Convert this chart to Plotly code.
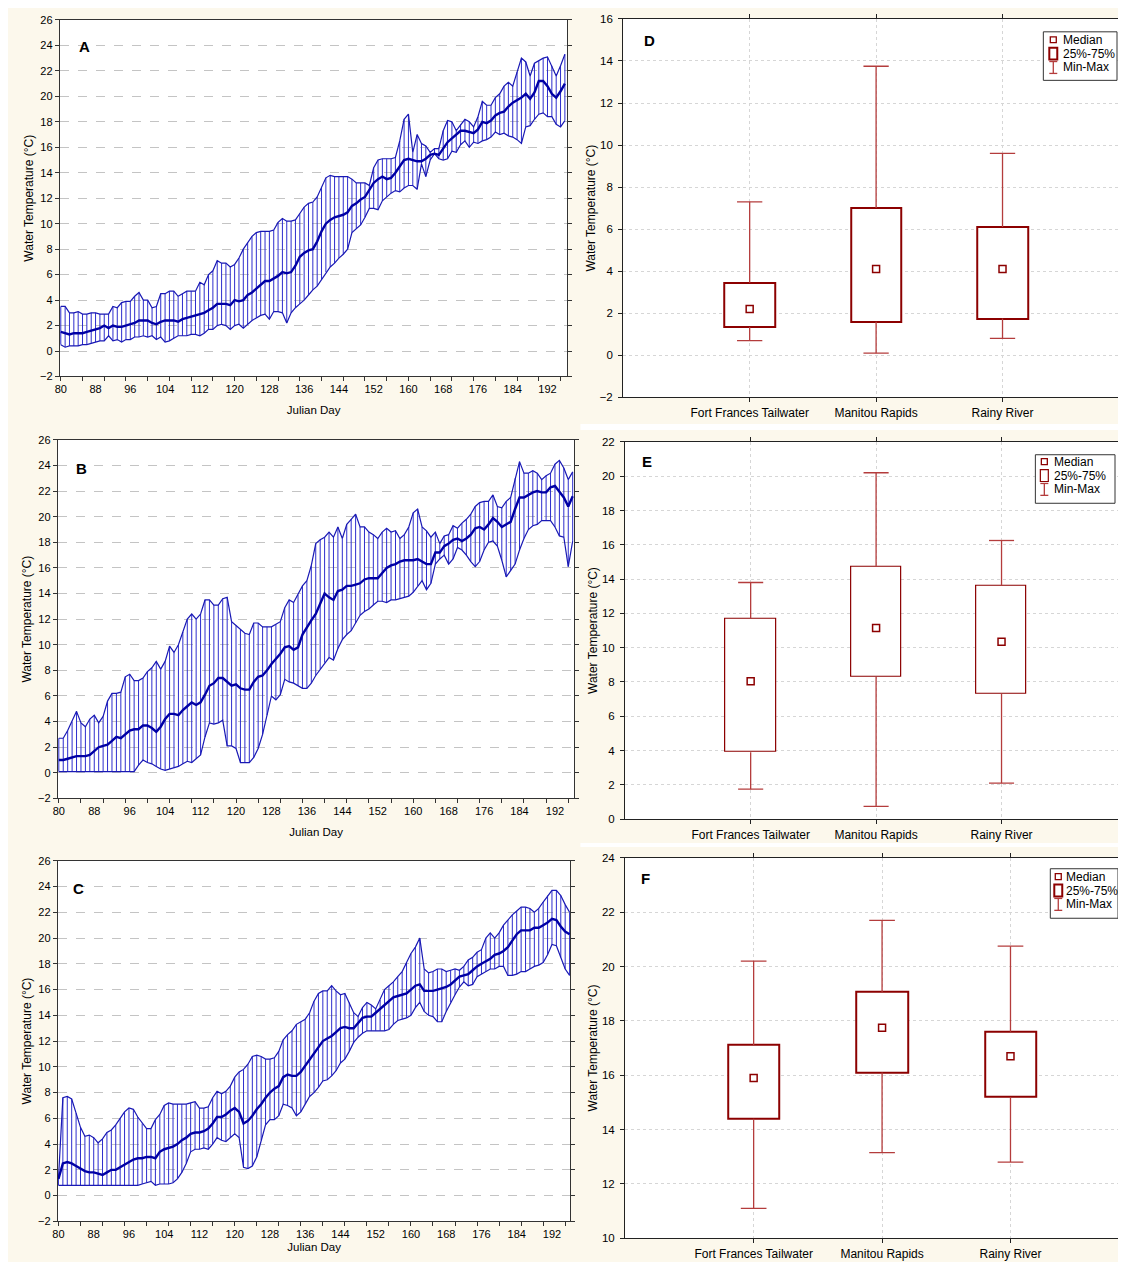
import plotly.graph_objects as go

# The page keeps the browser's default 8px body margin on every side, so the
# figure is sized to fit inside the 1126x1270 window with that margin, and all
# positions below are given in window pixels and shifted by that offset.
WIN_W, WIN_H = 1126, 1270
OFF = 8
W, H = WIN_W - 2 * OFF, WIN_H - 2 * OFF

# ---------------- data ----------------
days = list(range(80, 197))

A_mean = [1.5, 1.4, 1.3, 1.4, 1.4, 1.4, 1.5, 1.6, 1.7, 1.8,
          2.0, 1.8, 2.0, 1.9, 1.9, 2.0, 2.1, 2.2, 2.4, 2.4,
          2.4, 2.2, 2.1, 2.3, 2.4, 2.4, 2.4, 2.3, 2.5, 2.6,
          2.7, 2.8, 2.9, 3.0, 3.2, 3.4, 3.7, 3.7, 3.7, 3.6,
          4.0, 3.9, 4.0, 4.4, 4.6, 4.9, 5.2, 5.5, 5.5, 5.7,
          5.9, 6.2, 6.1, 6.2, 6.7, 7.4, 7.7, 7.9, 8.0, 8.6,
          9.4, 10.0, 10.3, 10.5, 10.6, 10.7, 10.9, 11.4, 11.6, 11.9,
          12.1, 12.6, 13.2, 13.5, 13.7, 13.5, 13.6, 14.0, 14.5, 15.0,
          15.1, 15.0, 14.9, 14.9, 15.1, 15.4, 15.5, 15.4, 15.9, 16.4,
          16.7, 17.0, 17.3, 17.3, 17.2, 17.1, 17.4, 18.0, 17.9, 18.1,
          18.5, 18.7, 18.8, 19.2, 19.5, 19.7, 19.9, 20.2, 19.8, 20.3,
          21.2, 21.2, 20.8, 20.2, 19.9, 20.4, 21.0]
A_max = [3.5, 3.5, 3.0, 3.0, 3.1, 2.9, 2.9, 3.0, 3.0, 2.9,
         2.9, 2.9, 3.5, 3.4, 3.8, 3.9, 3.9, 4.3, 4.6, 4.0,
         4.0, 3.4, 3.5, 4.5, 4.5, 4.7, 4.7, 4.3, 4.5, 4.7,
         4.7, 4.7, 5.4, 5.2, 6.0, 6.3, 7.1, 6.9, 6.9, 6.6,
         6.8, 7.3, 8.0, 8.5, 9.0, 9.3, 9.4, 9.4, 9.4, 9.5,
         10.1, 10.4, 10.2, 10.2, 10.3, 10.8, 11.3, 11.6, 11.7, 12.1,
         12.9, 13.6, 13.8, 13.7, 13.7, 13.7, 13.7, 13.5, 13.2, 13.2,
         13.2, 13.0, 14.4, 15.0, 15.1, 15.1, 15.1, 15.2, 16.5, 18.2,
         18.6, 15.6, 17.0, 16.3, 16.1, 15.6, 15.9, 15.9, 17.3, 18.1,
         18.0, 17.3, 17.8, 18.2, 18.0, 17.6, 18.4, 19.6, 19.3, 19.3,
         19.9, 20.2, 20.8, 21.1, 20.8, 21.9, 23.0, 22.7, 21.6, 22.6,
         22.8, 23.0, 23.1, 22.4, 21.6, 22.4, 23.3]
A_min = [0.5, 0.3, 0.4, 0.4, 0.4, 0.5, 0.5, 0.6, 0.7, 0.8,
         0.8, 1.2, 0.8, 0.9, 0.7, 0.9, 0.9, 1.1, 1.1, 1.2,
         1.1, 1.2, 0.9, 1.1, 0.7, 0.8, 1.0, 1.2, 1.2, 1.2,
         1.3, 1.3, 1.2, 1.4, 1.7, 1.7, 2.0, 2.1, 2.0, 1.7,
         2.0, 2.1, 1.8, 2.1, 2.4, 2.6, 2.8, 2.9, 2.5, 3.1,
         3.1, 3.0, 2.2, 3.0, 3.4, 3.7, 4.0, 4.4, 4.8, 5.1,
         5.6, 6.2, 6.6, 6.9, 7.3, 7.6, 8.0, 9.3, 9.6, 9.9,
         10.5, 11.2, 11.2, 11.1, 11.8, 12.1, 12.4, 12.6, 12.5, 12.8,
         13.0, 13.0, 12.7, 14.7, 13.7, 15.0, 15.5, 15.1, 15.0, 15.1,
         15.7, 15.6, 16.2, 16.5, 16.0, 16.4, 16.3, 16.5, 16.6, 16.8,
         17.2, 17.0, 17.1, 16.9, 16.8, 16.6, 16.3, 17.6, 17.7, 18.2,
         18.6, 18.7, 18.4, 18.4, 17.8, 17.6, 18.1]

B_mean = [1.0, 1.0, 1.1, 1.2, 1.3, 1.3, 1.3, 1.4, 1.7, 2.0,
          2.1, 2.2, 2.5, 2.8, 2.7, 3.0, 3.3, 3.4, 3.4, 3.7,
          3.7, 3.5, 3.2, 3.6, 4.2, 4.6, 4.6, 4.5, 4.9, 5.2,
          5.5, 5.3, 5.5, 6.1, 6.8, 7.0, 7.4, 7.4, 7.1, 6.8,
          6.9, 6.6, 6.5, 6.5, 7.1, 7.5, 7.6, 8.0, 8.5, 8.9,
          9.3, 9.8, 9.9, 9.6, 9.8, 10.8, 11.4, 11.9, 12.4, 13.2,
          14.0, 13.7, 13.5, 14.2, 14.3, 14.6, 14.6, 14.7, 14.8, 15.1,
          15.2, 15.2, 15.2, 15.6, 16.0, 16.2, 16.3, 16.5, 16.6, 16.6,
          16.6, 16.7, 16.5, 16.3, 16.3, 17.2, 17.2, 17.7, 17.9, 18.2,
          18.3, 18.1, 18.3, 18.6, 19.1, 19.2, 19.0, 19.4, 19.9, 19.6,
          19.2, 19.4, 19.6, 20.6, 21.5, 21.5, 21.7, 21.9, 22.0, 21.9,
          21.9, 22.3, 22.4, 21.9, 21.5, 20.8, 21.6]
B_max = [2.7, 2.7, 3.3, 4.0, 4.8, 3.9, 3.6, 4.2, 4.5, 3.9,
         4.4, 5.6, 6.2, 6.2, 6.3, 7.5, 7.7, 7.2, 7.2, 7.4,
         7.9, 8.2, 8.7, 8.1, 8.7, 9.9, 9.4, 10.0, 11.0, 12.0,
         12.4, 12.0, 12.4, 13.5, 13.5, 13.1, 13.1, 13.6, 13.7, 11.8,
         11.5, 11.2, 10.9, 10.8, 11.7, 11.7, 11.4, 11.4, 11.4, 11.6,
         11.8, 12.9, 13.5, 13.3, 13.9, 14.6, 15.0, 16.2, 17.9, 18.2,
         18.4, 18.8, 18.4, 19.2, 18.3, 19.4, 19.8, 20.2, 19.2, 19.2,
         18.8, 18.6, 18.3, 18.8, 19.1, 18.8, 18.9, 18.3, 18.6, 19.2,
         20.3, 20.6, 19.2, 18.9, 18.4, 18.8, 17.9, 18.5, 18.6, 19.3,
         19.1, 19.5, 19.8, 20.2, 20.8, 21.1, 21.2, 21.2, 21.7, 20.8,
         20.7, 21.2, 21.5, 23.0, 24.3, 23.4, 23.4, 23.6, 23.4, 22.9,
         23.2, 23.4, 24.1, 24.4, 23.8, 22.9, 23.5]
B_min = [0.1, 0.1, 0.1, 0.1, 0.1, 0.1, 0.1, 0.1, 0.1, 0.1,
         0.1, 0.1, 0.1, 0.1, 0.1, 0.1, 0.1, 0.1, 0.6, 1.0,
         0.8, 0.7, 0.5, 0.3, 0.2, 0.3, 0.4, 0.5, 0.7, 0.9,
         0.8, 1.1, 1.4, 2.8, 3.9, 3.8, 3.9, 4.1, 2.1, 2.1,
         1.9, 0.8, 0.8, 0.8, 1.2, 1.9, 3.0, 4.5, 6.0, 5.7,
         6.1, 7.3, 7.1, 7.0, 6.8, 6.6, 6.6, 7.0, 7.6, 8.1,
         8.6, 9.0, 8.8, 9.7, 10.4, 10.8, 11.1, 11.7, 12.3, 12.6,
         12.8, 13.1, 13.4, 13.4, 13.3, 13.5, 13.5, 13.6, 13.7, 13.8,
         14.1, 14.6, 15.0, 14.3, 14.8, 16.3, 16.7, 17.0, 16.3, 16.7,
         17.6, 17.4, 17.0, 16.5, 16.1, 16.5, 17.4, 18.0, 18.1, 17.7,
         16.6, 15.3, 15.8, 16.3, 17.4, 18.3, 19.0, 19.3, 19.4, 19.7,
         19.7, 19.7, 19.2, 18.5, 18.4, 16.1, 18.1]

C_mean = [1.3, 2.5, 2.6, 2.5, 2.3, 2.1, 1.9, 1.8, 1.8, 1.7,
          1.6, 1.8, 2.0, 2.0, 2.2, 2.4, 2.6, 2.8, 2.9, 2.9,
          3.0, 3.0, 2.9, 3.4, 3.6, 3.7, 3.8, 4.0, 4.3, 4.5,
          4.8, 4.9, 4.9, 5.0, 5.2, 5.6, 6.1, 6.1, 6.3, 6.6,
          6.8, 6.5, 5.6, 5.8, 6.2, 6.7, 7.1, 7.6, 8.0, 8.3,
          8.5, 9.2, 9.4, 9.3, 9.3, 9.6, 10.1, 10.6, 11.1, 11.6,
          12.0, 12.2, 12.4, 12.7, 13.0, 13.1, 13.0, 13.0, 13.4, 13.8,
          13.9, 13.9, 14.2, 14.5, 14.8, 15.1, 15.4, 15.5, 15.6, 15.7,
          16.0, 16.3, 16.4, 15.9, 15.9, 15.9, 16.0, 16.1, 16.2, 16.4,
          16.7, 17.0, 17.1, 17.2, 17.5, 17.8, 18.0, 18.2, 18.4, 18.7,
          18.8, 19.0, 19.3, 19.8, 20.3, 20.6, 20.6, 20.6, 20.8, 20.8,
          21.0, 21.2, 21.5, 21.4, 20.9, 20.5, 20.3]
C_max = [1.3, 7.6, 7.7, 7.5, 6.4, 5.3, 4.6, 4.7, 4.5, 4.1,
         4.4, 4.9, 5.1, 5.5, 6.0, 6.5, 6.8, 6.7, 6.1, 5.6,
         5.2, 5.2, 5.9, 6.3, 7.0, 7.2, 7.1, 7.1, 7.1, 7.1,
         7.2, 7.3, 6.8, 6.8, 6.9, 7.6, 8.1, 7.9, 8.1, 8.5,
         9.2, 9.6, 9.8, 10.2, 10.8, 10.9, 10.8, 10.6, 10.6, 10.7,
         11.2, 12.1, 12.5, 12.8, 13.3, 13.5, 13.7, 14.2, 15.1, 15.7,
         15.9, 15.9, 16.3, 15.9, 15.6, 15.7, 15.0, 14.2, 13.9, 14.6,
         15.0, 14.8, 14.5, 15.2, 16.0, 16.3, 16.6, 17.0, 17.4, 18.1,
         18.8, 19.3, 20.0, 17.6, 17.3, 17.4, 17.6, 17.6, 17.4, 17.5,
         17.6, 17.5, 17.8, 18.3, 18.5, 18.9, 19.1, 20.0, 20.4, 20.0,
         20.4, 21.0, 21.4, 21.8, 22.1, 22.4, 22.4, 22.3, 22.0, 22.3,
         22.8, 23.3, 23.7, 23.7, 23.3, 22.6, 22.0]
C_min = [0.8, 0.8, 0.8, 0.8, 0.8, 0.8, 0.8, 0.8, 0.8, 0.8,
         0.8, 0.8, 0.8, 0.8, 0.8, 0.8, 0.8, 0.8, 0.8, 0.9,
         1.0, 1.1, 0.8, 0.9, 0.9, 0.9, 1.0, 1.3, 1.8, 2.5,
         3.4, 3.6, 3.6, 3.7, 3.6, 4.0, 4.5, 4.3, 4.2, 4.5,
         4.8, 4.5, 2.2, 2.1, 2.3, 3.0, 4.3, 5.5, 5.9, 5.9,
         6.2, 7.1, 7.0, 6.8, 6.2, 6.5, 7.1, 7.7, 8.0, 8.4,
         8.9, 9.0, 9.3, 9.7, 10.3, 10.6, 11.2, 11.9, 12.3, 12.6,
         12.8, 12.8, 12.8, 12.8, 12.8, 12.9, 13.3, 13.6, 13.7, 13.8,
         14.0, 14.6, 15.0, 14.3, 14.0, 13.9, 13.5, 13.5, 14.3, 15.0,
         15.6, 16.2, 16.6, 16.3, 16.4, 17.0, 17.2, 17.4, 17.6, 17.6,
         17.8, 17.8, 17.1, 17.1, 17.2, 17.4, 17.4, 17.6, 17.8, 17.9,
         18.1, 18.7, 19.5, 19.4, 18.5, 17.6, 17.1]

sites = ["Fort Frances Tailwater", "Manitou Rapids", "Rainy River"]
D_min = [0.7, 0.1, 0.8]
D_q1 = [1.35, 1.6, 1.75]
D_med = [2.2, 4.1, 4.1]
D_q3 = [3.45, 7.0, 6.1]
D_max = [7.3, 13.75, 9.6]

E_min = [1.75, 0.75, 2.1]
E_q1 = [3.9, 8.3, 7.3]
E_med = [8.05, 11.15, 10.35]
E_q3 = [11.7, 14.7, 13.6]
E_max = [13.8, 20.2, 16.25]

F_min = [11.1, 13.15, 12.8]
F_q1 = [14.4, 16.1, 15.2]
F_med = [15.9, 17.75, 16.7]
F_q3 = [17.1, 19.05, 17.6]
F_max = [20.2, 21.7, 20.75]

day_ticks = list(range(80, 197, 8))
ytitle = "Water Temperature (\u00b0C)"

# ---------------- styles ----------------
CREAM = "#FCF8EC"
HATCH = "rgb(45,45,205)"
EDGE = "rgb(25,25,180)"
MEANC = "rgb(0,0,165)"
BOXC = "rgb(140,0,0)"
WHISK = "rgb(180,60,60)"
FONT = "Arial, 'Liberation Sans', sans-serif"
RIGHT = WIN_W - OFF  # right-most window pixel covered by the figure


def px(x):
    return min(max((x - OFF) / W, 0.0), 1.0)


def py(y):
    return 1 - (y - OFF) / H


fig = go.Figure()


def ax_names(i):
    s = "" if i == 1 else str(i)
    return "x" + s, "y" + s, "xaxis" + s, "yaxis" + s


def line_panel(i, mean, lo, hi, dom_x, dom_y, xr, title_standoff):
    xa, ya, xk, yk = ax_names(i)
    hx, hy = [], []
    for d, a, b in zip(days, lo, hi):
        hx += [d, d, None]
        hy += [a, b, None]
    fig.add_trace(go.Scatter(x=hx, y=hy, mode="lines", line=dict(color=HATCH, width=1),
                             xaxis=xa, yaxis=ya, hoverinfo="skip", showlegend=False))
    fig.add_trace(go.Scatter(x=days, y=hi, mode="lines", line=dict(color=EDGE, width=1.2),
                             xaxis=xa, yaxis=ya, showlegend=False, name="Max"))
    fig.add_trace(go.Scatter(x=days, y=lo, mode="lines", line=dict(color=EDGE, width=1.2),
                             xaxis=xa, yaxis=ya, showlegend=False, name="Min"))
    fig.add_trace(go.Scatter(x=days, y=mean, mode="lines", line=dict(color=MEANC, width=2.4),
                             xaxis=xa, yaxis=ya, showlegend=False, name="Mean"))
    fig.layout[xk] = dict(
        domain=[px(dom_x[0]), px(dom_x[1])], anchor=ya, range=xr,
        tickvals=day_ticks, ticks="", showgrid=False, zeroline=False,
        showline=True, linecolor="#333", linewidth=1, mirror=True,
        minor=dict(dtick=5, tick0=80, ticks="outside", ticklen=4, tickcolor="#333", showgrid=False),
        ticklabelstandoff=2,
        tickfont=dict(family=FONT, size=11, color="black"),
        title=dict(text="Julian Day", font=dict(family=FONT, size=11.5, color="black"),
                   standoff=title_standoff),
    )
    fig.layout[yk] = dict(
        domain=[py(dom_y[1]), py(dom_y[0])], anchor=xa, range=[-2, 26], dtick=2, tick0=0,
        ticks="outside", ticklen=4, tickcolor="#333", ticklabelstandoff=0,
        showgrid=True, gridcolor="#C4C4C4", griddash="dash", gridwidth=1, zeroline=False,
        showline=True, linecolor="#333", linewidth=1, mirror="ticks",
        tickfont=dict(family=FONT, size=11, color="black"),
        title=dict(text=ytitle, font=dict(family=FONT, size=12, color="black"), standoff=3),
    )


def box_panel(i, mn, q1, med, q3, mx, left_px, cat1_px, step_px, dom_y, yr, lw):
    xa, ya, xk, yk = ax_names(i)
    pos = [1, 2, 3]
    cap = 0.1
    x0 = (left_px - cat1_px) / step_px + 1
    x1 = (RIGHT - cat1_px) / step_px + 1
    fig.add_trace(go.Bar(x=pos, y=[b - a for a, b in zip(q1, q3)], base=q1, width=0.4,
                         marker=dict(color="white", line=dict(color=BOXC, width=lw)),
                         xaxis=xa, yaxis=ya, showlegend=False, name="25%-75%"))
    wx, wy = [], []
    for p, a, b, c, d in zip(pos, mn, q1, q3, mx):
        wx += [p, p, None, p, p, None]
        wy += [a, b, None, c, d, None]
    for p, a, d in zip(pos, mn, mx):
        wx += [p - cap, p + cap, None, p - cap, p + cap, None]
        wy += [a, a, None, d, d, None]
    fig.add_trace(go.Scatter(x=wx, y=wy, mode="lines", line=dict(color=WHISK, width=1.3),
                             xaxis=xa, yaxis=ya, showlegend=False, name="Min-Max"))
    fig.add_trace(go.Scatter(x=pos, y=med, mode="markers",
                             marker=dict(symbol="square-open", size=7, color=BOXC, line=dict(width=1.5)),
                             xaxis=xa, yaxis=ya, showlegend=False, name="Median"))
    fig.layout[xk] = dict(
        domain=[px(left_px), 1.0], anchor=ya, range=[x0, x1],
        tickvals=pos, ticktext=sites, ticks="outside", ticklen=4, tickcolor="#222",
        showgrid=True, gridcolor="#D6D6D6", griddash="dot", zeroline=False,
        showline=True, linecolor="#222", linewidth=1.3, mirror="ticks",
        tickfont=dict(family=FONT, size=12, color="black"),
    )
    fig.layout[yk] = dict(
        domain=[py(dom_y[1]), py(dom_y[0])], anchor=xa, range=yr, dtick=2,
        ticks="outside", ticklen=4, tickcolor="#222", ticklabelstandoff=3,
        showgrid=True, gridcolor="#D6D6D6", griddash="dot", zeroline=False,
        showline=True, linecolor="#222", linewidth=1.3,
        tickfont=dict(family=FONT, size=11.5, color="black"),
        title=dict(text=ytitle, font=dict(family=FONT, size=12, color="black"), standoff=1),
    )


line_panel(1, A_mean, A_min, A_max, (55, 565), (14, 374), [79.77, 196.6], 12)
line_panel(2, B_mean, B_min, B_max, (53, 572), (438, 800), [79.77, 196.4], 12)
line_panel(3, C_mean, C_min, C_max, (53, 568), (863, 1227), [79.85, 196.2], 4)
box_panel(4, D_min, D_q1, D_med, D_q3, D_max, 621, 748, 127, (13, 395), [-2, 16], 2)
box_panel(5, E_min, E_q1, E_med, E_q3, E_max, 623, 749, 126, (440, 821), [0, 22], 1.2)
box_panel(6, F_min, F_q1, F_med, F_q3, F_max, 623, 752, 129, (860, 1244), [10, 24], 2)

annotations = []
shapes = []

# white separator strips between right-hand images
for y0, y1 in [(422, 428), (845, 849)]:
    shapes.append(dict(type="rect", xref="paper", yref="paper", x0=px(578), x1=1,
                       y0=py(y1), y1=py(y0), fillcolor="white", line=dict(width=0), layer="below"))

# panel letters
for letter, x, y in [("A", 80, 41), ("B", 77, 467), ("C", 74, 891),
                     ("D", 647, 35), ("E", 645, 460), ("F", 643, 881)]:
    annotations.append(dict(text="<b>%s</b>" % letter, xref="paper", yref="paper", x=px(x), y=py(y),
                            xanchor="center", yanchor="middle", showarrow=False,
                            font=dict(family=FONT, size=15, color="black")))

# legends for box panels
legend_specs = [
    # box x0,x1,y0,y1, icon x, text x, first row y, box outline width
    (1043, 1117, 26, 75, 1053, 1061, 34, 2),
    (1035, 1115, 453, 502, 1044, 1052, 460, 1.2),
    (1050, 1131, 871, 921, 1058, 1064, 879, 2),
]
labels = ["Median", "25%-75%", "Min-Max"]
for (bx0, bx1, by0, by1, ix, tx, ry, blw) in legend_specs:
    shapes.append(dict(type="rect", xref="paper", yref="paper", x0=px(bx0), x1=px(bx1),
                       y0=py(by1), y1=py(by0), fillcolor="white", line=dict(color="#333", width=1)))
    shapes.append(dict(type="rect", xref="paper", yref="paper", x0=px(ix - 3), x1=px(ix + 3),
                       y0=py(ry + 3), y1=py(ry - 3), line=dict(color=BOXC, width=1.3)))
    r2 = ry + 14
    shapes.append(dict(type="rect", xref="paper", yref="paper", x0=px(ix - 4), x1=px(ix + 4),
                       y0=py(r2 + 6), y1=py(r2 - 6), line=dict(color=BOXC, width=blw)))
    r3 = ry + 28
    for (a, b, c, d) in [(ix, r3 - 6, ix, r3 + 6), (ix - 4, r3 - 6, ix + 4, r3 - 6), (ix - 4, r3 + 6, ix + 4, r3 + 6)]:
        shapes.append(dict(type="line", xref="paper", yref="paper", x0=px(a), y0=py(b), x1=px(c), y1=py(d),
                           line=dict(color=WHISK, width=1.3)))
    for k, lab in enumerate(labels):
        annotations.append(dict(text=lab, xref="paper", yref="paper", x=px(tx), y=py(ry + 14 * k),
                                xanchor="left", yanchor="middle", showarrow=False,
                                font=dict(family=FONT, size=12, color="black")))

fig.update_layout(
    width=W, height=H, autosize=False,
    margin=dict(l=0, r=0, t=0, b=0, pad=0),
    paper_bgcolor=CREAM, plot_bgcolor="white",
    showlegend=False, bargap=0,
    font=dict(family=FONT, size=11, color="black"),
    annotations=annotations, shapes=shapes,
)

fig.write_html("out.html", config={"displayModeBar": False})
